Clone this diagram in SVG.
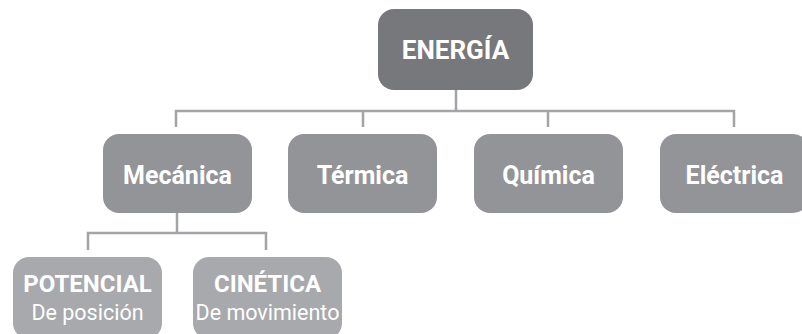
<svg xmlns="http://www.w3.org/2000/svg" width="802" height="334" viewBox="0 0 802 334">
<style>
.l1{fill:#77787b}
.l2{fill:#939497}
.l3{fill:#a8a9ac}
.t{font-family:Roboto,"Liberation Sans",sans-serif;font-weight:700;font-size:24px;fill:#ffffff;text-anchor:middle}
.big{font-size:26px}
.mid{font-size:25px}
.s{font-family:Roboto,"Liberation Sans",sans-serif;font-weight:400;font-size:21.5px;fill:#ffffff;text-anchor:middle}
.c{fill:none;stroke:#a3a4a7;stroke-width:2.5}
</style>
<rect width="802" height="334" fill="#ffffff"/>
<g id="connectors">
<path class="c" d="M456 90V111M176 127V111H734V127M363 111V127M548 111V127"/>
<path class="c" d="M177 213V233M88 250V233H266V250"/>
</g>
<g id="energia"><rect class="l1" x="378" y="9" width="155" height="81" rx="16"/><text class="t big" x="455.5" y="59">ENERGÍA</text></g>
<g id="mecanica"><rect class="l2" x="103" y="134" width="149" height="79" rx="16"/><text class="t mid" x="177.5" y="184">Mecánica</text></g>
<g id="termica"><rect class="l2" x="288" y="134" width="149" height="79" rx="16"/><text class="t mid" x="362.5" y="184">Térmica</text></g>
<g id="quimica"><rect class="l2" x="474" y="134" width="149" height="79" rx="16"/><text class="t mid" x="548.5" y="184">Química</text></g>
<g id="electrica"><rect class="l2" x="660" y="134" width="149" height="79" rx="16"/><text class="t mid" x="734.5" y="184">Eléctrica</text></g>
<g id="potencial"><rect class="l3" x="13" y="257" width="149" height="82" rx="16"/><text class="t" x="87.5" y="292">POTENCIAL</text><text class="s" x="87.5" y="320">De posición</text></g>
<g id="cinetica"><rect class="l3" x="193" y="257" width="149" height="82" rx="16"/><text class="t" x="267.5" y="292">CINÉTICA</text><text class="s" x="267.5" y="320">De movimiento</text></g>
</svg>
